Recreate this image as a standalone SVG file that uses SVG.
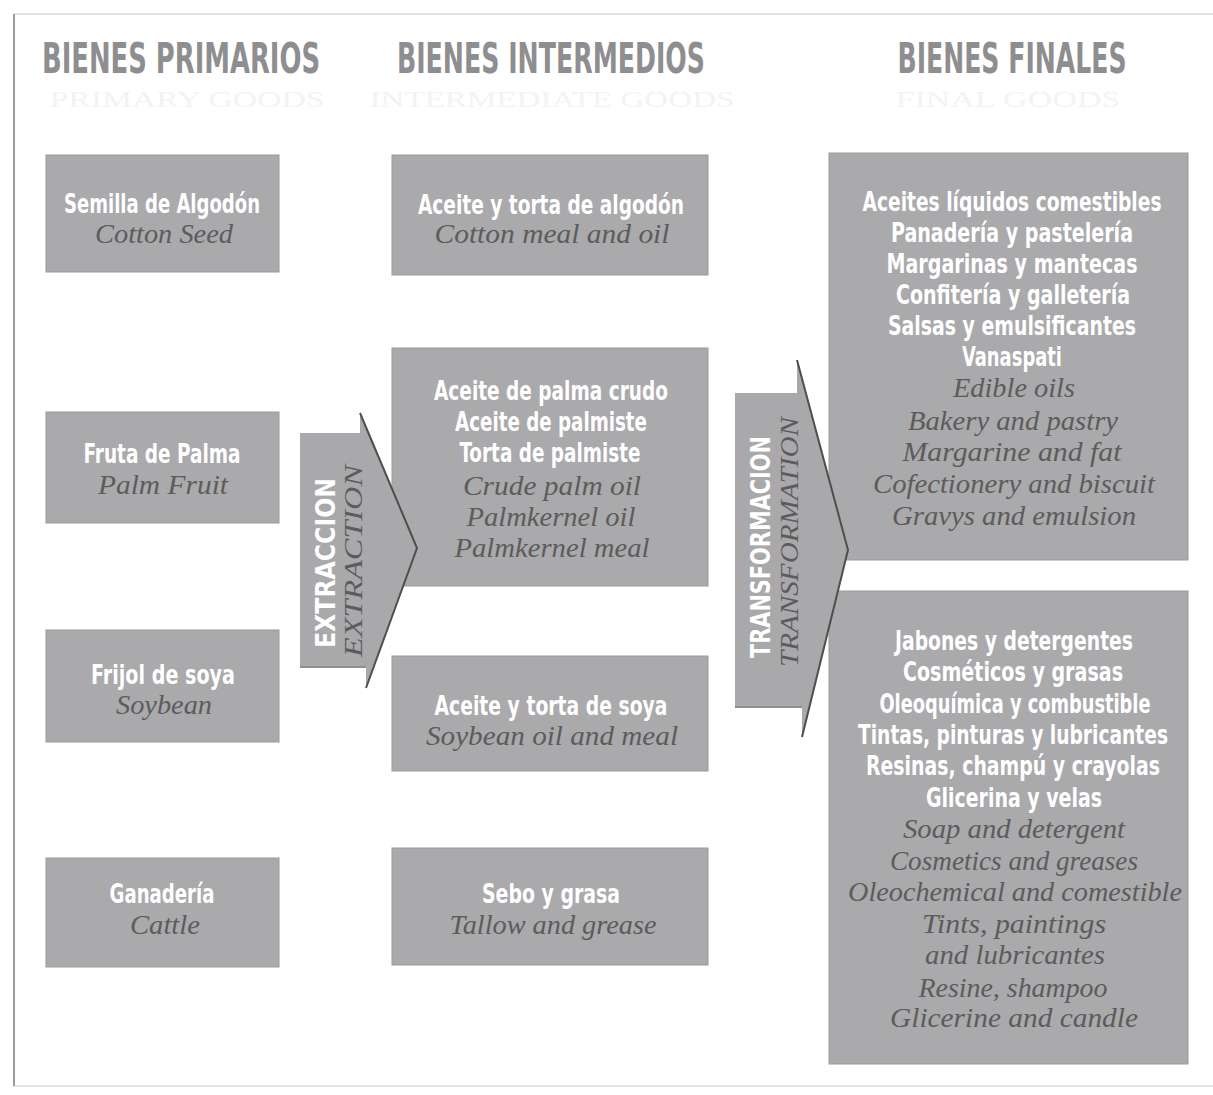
<svg xmlns="http://www.w3.org/2000/svg" width="1213" height="1095" viewBox="0 0 1213 1095">
<style>
.box{fill:#aaa9ab;stroke:#9a999b;stroke-width:1}
.b{font-family:"DejaVu Sans Condensed","Liberation Sans Narrow","Liberation Sans",sans-serif;font-weight:bold;font-size:26px;fill:#ffffff;text-anchor:middle}
.i{font-family:"Liberation Serif","DejaVu Serif",serif;font-style:italic;font-size:27px;fill:#5c5c5c;text-anchor:middle}
.h{font-family:"DejaVu Sans Condensed","Liberation Sans Narrow","Liberation Sans",sans-serif;font-weight:bold;font-size:43px;fill:#8e8e90;text-anchor:middle}
.s{font-family:"Liberation Serif","DejaVu Serif",serif;font-size:23px;fill:#f3f3f3;text-anchor:middle}
.arr{fill:#a9a8aa}
.edge{fill:none;stroke:#4e4e4e;stroke-width:2}
</style>
<rect x="0" y="0" width="1213" height="1095" fill="#ffffff"/>
<g id="frame">
<line x1="14" y1="14" x2="1213" y2="14" stroke="#e2e2e2" stroke-width="2"/>
<line x1="14" y1="1086" x2="1213" y2="1086" stroke="#e4e4e4" stroke-width="2"/>
<line x1="14" y1="14" x2="14" y2="1086" stroke="#9c9c9c" stroke-width="2"/>
</g>
<g id="headers">
<text class="h" x="181" y="73" textLength="278" lengthAdjust="spacingAndGlyphs">BIENES PRIMARIOS</text>
<text class="h" x="551" y="73" textLength="308" lengthAdjust="spacingAndGlyphs">BIENES INTERMEDIOS</text>
<text class="h" x="1012" y="73" textLength="229" lengthAdjust="spacingAndGlyphs">BIENES FINALES</text>
<text class="s" x="187" y="107" textLength="275" lengthAdjust="spacingAndGlyphs">PRIMARY GOODS</text>
<text class="s" x="552" y="107" textLength="365" lengthAdjust="spacingAndGlyphs">INTERMEDIATE GOODS</text>
<text class="s" x="1008" y="107" textLength="225" lengthAdjust="spacingAndGlyphs">FINAL GOODS</text>
</g>
<g id="semilla-algodon">
<rect class="box" x="46" y="155" width="233" height="117"/>
<text class="b" x="162" y="213" textLength="196" lengthAdjust="spacingAndGlyphs">Semilla de Algodón</text>
<text class="i" x="164" y="243" textLength="138" lengthAdjust="spacingAndGlyphs">Cotton Seed</text>
</g>
<g id="fruta-palma">
<rect class="box" x="46" y="412" width="233" height="111"/>
<text class="b" x="162" y="463" textLength="157" lengthAdjust="spacingAndGlyphs">Fruta de Palma</text>
<text class="i" x="163" y="494" textLength="130" lengthAdjust="spacingAndGlyphs">Palm Fruit</text>
</g>
<g id="frijol-soya">
<rect class="box" x="46" y="630" width="233" height="112"/>
<text class="b" x="163" y="684" textLength="144" lengthAdjust="spacingAndGlyphs">Frijol de soya</text>
<text class="i" x="164" y="714" textLength="96" lengthAdjust="spacingAndGlyphs">Soybean</text>
</g>
<g id="ganaderia">
<rect class="box" x="46" y="858" width="233" height="109"/>
<text class="b" x="162" y="903" textLength="105" lengthAdjust="spacingAndGlyphs">Ganadería</text>
<text class="i" x="165" y="934" textLength="70" lengthAdjust="spacingAndGlyphs">Cattle</text>
</g>
<g id="aceite-torta-algodon">
<rect class="box" x="392" y="155" width="316" height="120"/>
<text class="b" x="551" y="214" textLength="266" lengthAdjust="spacingAndGlyphs">Aceite y torta de algodón</text>
<text class="i" x="552" y="243" textLength="235" lengthAdjust="spacingAndGlyphs">Cotton meal and oil</text>
</g>
<g id="aceite-palma">
<rect class="box" x="392" y="348" width="316" height="238"/>
<text class="b" x="551" y="400" textLength="234" lengthAdjust="spacingAndGlyphs">Aceite de palma crudo</text>
<text class="b" x="551" y="431" textLength="192" lengthAdjust="spacingAndGlyphs">Aceite de palmiste</text>
<text class="b" x="550" y="462" textLength="181" lengthAdjust="spacingAndGlyphs">Torta de palmiste</text>
<text class="i" x="552" y="495" textLength="178" lengthAdjust="spacingAndGlyphs">Crude palm oil</text>
<text class="i" x="551" y="526" textLength="169" lengthAdjust="spacingAndGlyphs">Palmkernel oil</text>
<text class="i" x="552" y="557" textLength="195" lengthAdjust="spacingAndGlyphs">Palmkernel meal</text>
</g>
<g id="aceite-torta-soya">
<rect class="box" x="392" y="656" width="316" height="115"/>
<text class="b" x="551" y="715" textLength="233" lengthAdjust="spacingAndGlyphs">Aceite y torta de soya</text>
<text class="i" x="552" y="745" textLength="252" lengthAdjust="spacingAndGlyphs">Soybean oil and meal</text>
</g>
<g id="sebo-grasa">
<rect class="box" x="392" y="848" width="316" height="117"/>
<text class="b" x="551" y="903" textLength="138" lengthAdjust="spacingAndGlyphs">Sebo y grasa</text>
<text class="i" x="553" y="934" textLength="207" lengthAdjust="spacingAndGlyphs">Tallow and grease</text>
</g>
<g id="bienes-finales-alimentos">
<rect class="box" x="829" y="153" width="359" height="407"/>
<text class="b" x="1012" y="211" textLength="299" lengthAdjust="spacingAndGlyphs">Aceites líquidos comestibles</text>
<text class="b" x="1012" y="242" textLength="242" lengthAdjust="spacingAndGlyphs">Panadería y pastelería</text>
<text class="b" x="1012" y="273" textLength="251" lengthAdjust="spacingAndGlyphs">Margarinas y mantecas</text>
<text class="b" x="1013" y="304" textLength="234" lengthAdjust="spacingAndGlyphs">Confitería y galletería</text>
<text class="b" x="1012" y="335" textLength="248" lengthAdjust="spacingAndGlyphs">Salsas y emulsificantes</text>
<text class="b" x="1012" y="366" textLength="100" lengthAdjust="spacingAndGlyphs">Vanaspati</text>
<text class="i" x="1014" y="397" textLength="122" lengthAdjust="spacingAndGlyphs">Edible oils</text>
<text class="i" x="1013" y="430" textLength="210" lengthAdjust="spacingAndGlyphs">Bakery and pastry</text>
<text class="i" x="1012" y="461" textLength="219" lengthAdjust="spacingAndGlyphs">Margarine and fat</text>
<text class="i" x="1014" y="493" textLength="282" lengthAdjust="spacingAndGlyphs">Cofectionery and biscuit</text>
<text class="i" x="1014" y="525" textLength="244" lengthAdjust="spacingAndGlyphs">Gravys and emulsion</text>
</g>
<g id="bienes-finales-industriales">
<rect class="box" x="829" y="591" width="359" height="473"/>
<text class="b" x="1014" y="650" textLength="238" lengthAdjust="spacingAndGlyphs">Jabones y detergentes</text>
<text class="b" x="1013" y="681" textLength="220" lengthAdjust="spacingAndGlyphs">Cosméticos y grasas</text>
<text class="b" x="1015" y="713" textLength="271" lengthAdjust="spacingAndGlyphs">Oleoquímica y combustible</text>
<text class="b" x="1013" y="744" textLength="310" lengthAdjust="spacingAndGlyphs">Tintas, pinturas y lubricantes</text>
<text class="b" x="1013" y="775" textLength="294" lengthAdjust="spacingAndGlyphs">Resinas, champú y crayolas</text>
<text class="b" x="1014" y="807" textLength="176" lengthAdjust="spacingAndGlyphs">Glicerina y velas</text>
<text class="i" x="1014" y="838" textLength="222" lengthAdjust="spacingAndGlyphs">Soap and detergent</text>
<text class="i" x="1014" y="870" textLength="248" lengthAdjust="spacingAndGlyphs">Cosmetics and greases</text>
<text class="i" x="1015" y="901" textLength="334" lengthAdjust="spacingAndGlyphs">Oleochemical and comestible</text>
<text class="i" x="1014" y="933" textLength="184" lengthAdjust="spacingAndGlyphs">Tints, paintings</text>
<text class="i" x="1015" y="964" textLength="180" lengthAdjust="spacingAndGlyphs">and lubricantes</text>
<text class="i" x="1013" y="997" textLength="189" lengthAdjust="spacingAndGlyphs">Resine, shampoo</text>
<text class="i" x="1014" y="1027" textLength="248" lengthAdjust="spacingAndGlyphs">Glicerine and candle</text>
</g>
<g id="connectors">
<g id="extraccion">
<polygon class="arr" points="300,433 360,433 360,413 417,548 366,688 366,667 300,667"/>
<polyline class="edge" points="360,413 417,548 366,688"/>
<line x1="300" y1="667" x2="366" y2="667" stroke="#8e8e8e" stroke-width="2"/>
<text class="b" transform="translate(335,563) rotate(-90)" textLength="170" lengthAdjust="spacingAndGlyphs">EXTRACCION</text>
<text class="i" transform="translate(362,561) rotate(-90)" textLength="192" lengthAdjust="spacingAndGlyphs" style="font-size:26px">EXTRACTION</text>
</g>
<g id="transformacion">
<polygon class="arr" points="735,393 797,393 797,360 848,550 802,737 802,707 735,707"/>
<polyline class="edge" points="797,360 848,550 802,737"/>
<line x1="735" y1="707" x2="802" y2="707" stroke="#8e8e8e" stroke-width="2"/>
<text class="b" transform="translate(770,547) rotate(-90)" textLength="222" lengthAdjust="spacingAndGlyphs">TRANSFORMACION</text>
<text class="i" transform="translate(798,542) rotate(-90)" textLength="250" lengthAdjust="spacingAndGlyphs" style="font-size:26px">TRANSFORMATION</text>
</g>
</g>
</svg>
